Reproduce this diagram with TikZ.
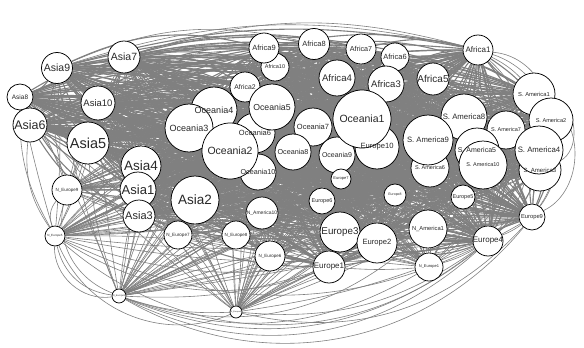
\documentclass[tikz,border=0pt]{standalone}
\usepackage{fontspec}
\setmainfont{Liberation Sans}
\pgfdeclarelayer{edges}
\pgfdeclarelayer{labels}
\pgfsetlayers{edges,main,labels}
\definecolor{edgegray}{RGB}{128,128,128}
\definecolor{labelgray}{RGB}{40,40,40}
\tikzset{
  country/.style={circle, draw=black, fill=white, line width=0.75pt, inner sep=0pt},
  countrylabel/.style={inner sep=0pt, text=labelgray},
  link/.style={draw=edgegray, line width=1.1pt},
  sidelink/.style={draw=edgegray, line width=0.6pt},
}
% \country{name}{x}{y}{diameter}{font size}{label}
% circles go on the main layer, their labels on the layer above
\newcommand\country[6]{%
  \node[country, minimum size=#4pt] (#1) at (#2,#3) {};
  \begin{pgfonlayer}{labels}
    \node[countrylabel, font=\fontsize{#5}{#5}\selectfont] (#1-t) at (#2,#3) {#6};
  \end{pgfonlayer}}
\def\mainnodes{a7,a9,a8,a10,a6,a5,a4,a1,a3,a2,o1,o2,o3,o4,o5,o6,o7,o8,o9,o10,af1,af2,af3,af4,af5,af6,af7,af8,af9,af10,sa1,sa2,sa3,sa4,sa5,sa6,sa7,sa8,sa9,sa10,e1,e2,e3,e4,e5,e6,e7,e8,e9,e10}
\def\sidenodes{ne9,nL,nB1,nB2,na10,ne7,ne8,ne6,na1,ne1}
\begin{document}
\begin{tikzpicture}[x=1pt,y=-1pt]
\useasboundingbox (0,0) rectangle (584,348);

% ---- peripheral nodes
\country{ne9}{67}{190}{30}{4.5}{N\_Europe9}
\country{nL}{55}{236}{20}{3}{N\_Europe5}
\country{nB1}{119}{296}{14}{2.4}{N\_Europe3}
\country{nB2}{236}{312}{12}{2}{N\_Europe4}

% ---- Asia
\country{a7}{124}{57}{32}{10.5}{Asia7}
\country{a9}{57}{68}{31}{10.5}{Asia9}
\country{a8}{20}{97}{26}{6.5}{Asia8}
\country{a10}{98}{103}{34}{9.5}{Asia10}
\country{a6}{30}{125}{34}{12.5}{Asia6}
\country{a5}{88}{143}{42}{14.5}{Asia5}
\country{a4}{141}{166}{40}{13.5}{Asia4}
\country{a1}{138}{190}{36}{13}{Asia1}
\country{a3}{139}{216}{32}{11}{Asia3}
\country{a2}{195}{200}{48}{13.5}{Asia2}

% ---- Africa
\country{af10}{275}{67}{28}{5.5}{Africa10}
\country{af9}{264}{48}{30}{7.5}{Africa9}
\country{af2}{245}{87}{30}{6.8}{Africa2}
\country{af8}{314}{44}{31}{7.5}{Africa8}
\country{af7}{361}{49}{30}{7.2}{Africa7}
\country{af4}{337}{78}{36}{9.6}{Africa4}
\country{af6}{395}{57}{28}{7.5}{Africa6}
\country{af3}{386}{84}{36}{9.5}{Africa3}
\country{af5}{433}{79}{32}{10}{Africa5}
\country{af1}{478}{50}{30}{8}{Africa1}

% ---- Oceania
\country{o10}{258}{172}{36}{7.2}{Oceania10}
\country{o6}{255}{133}{40}{7.5}{Oceania6}
\country{o4}{214}{110}{46}{9}{Oceania4}
\country{o3}{189}{128}{48}{9}{Oceania3}
\country{o5}{272}{107}{46}{8.7}{Oceania5}
\country{o2}{230}{151}{56}{10.5}{Oceania2}
\country{o7}{313}{127}{38}{7.5}{Oceania7}
\country{o8}{293}{152}{36}{7.2}{Oceania8}
\country{o9}{337}{155}{36}{7}{Oceania9}
\country{e10}{377}{147}{44}{7.6}{Europe10}
\country{o1}{362}{119}{58}{10.5}{Oceania1}

% ---- South America
\country{sa1}{534}{94}{42}{5.8}{S. America1}
\country{sa2}{551}{120}{44}{5.6}{S. America2}
\country{sa8}{464}{117}{46}{7.8}{S. America8}
\country{sa7}{506}{130}{38}{5.5}{S. America7}
\country{sa5}{477}{150}{44}{7}{S. America5}
\country{sa6}{430}{168}{38}{5.5}{S. America6}
\country{sa9}{428}{140}{50}{7.7}{S. America9}
\country{sa10}{483}{165}{48}{5.5}{S. America10}
\country{sa3}{540}{170}{42}{6}{S. America3}
\country{sa4}{539}{150}{48}{7.8}{S. America4}

% ---- Europe
\country{e7}{341}{179}{20}{4}{Europe7}
\country{e6}{322}{201}{26}{5.5}{Europe6}
\country{e8}{395}{195}{22}{3.5}{Europe8}
\country{e3}{340}{232}{40}{9.8}{Europe3}
\country{e2}{377}{243}{40}{7.6}{Europe2}
\country{e1}{329}{267}{32}{8}{Europe1}
\country{e5}{463}{197}{24}{5.5}{Europe5}
\country{e4}{488}{241}{30}{8}{Europe4}
\country{e9}{532}{217}{26}{5.8}{Europe9}

% ---- North America / North Europe inside the mass
\country{na10}{262}{213}{32}{5}{N\_America10}
\country{ne7}{178}{235}{28}{4.6}{N\_Europe7}
\country{ne8}{236}{235}{28}{4.5}{N\_Europe8}
\country{ne6}{270}{256}{30}{4.5}{N\_Europe6}
\country{na1}{428}{229}{38}{5.8}{N\_America1}
\country{ne1}{429}{267}{28}{4}{N\_Europe1}

\begin{pgfonlayer}{edges}
  % all pairs among the main countries
  \foreach \u [count=\i] in \mainnodes {
    \foreach \v [count=\j] in \mainnodes {
      \ifnum\j>\i
        \pgfmathtruncatemacro\ang{6+mod(\i*7+\j*13,14)}
        \ifodd\numexpr\i+\j\relax
          \draw[link] (\u) to[bend left=\ang] (\v);
        \else
          \draw[link] (\u) to[bend right=\ang] (\v);
        \fi
      \fi
    }
  }
  % peripheral nodes to most of the main countries
  \foreach \n [count=\k] in \sidenodes {
    \foreach \v [count=\j] in \mainnodes {
      \pgfmathtruncatemacro\sel{mod(\k*5+\j*3,5)}
      \pgfmathtruncatemacro\ang{2+mod(\k*3+\j*7,9)}
      \ifnum\sel>0
        \ifodd\numexpr\k+\j\relax
          \draw[sidelink] (\n) to[bend left=\ang] (\v);
        \else
          \draw[sidelink] (\n) to[bend right=\ang] (\v);
        \fi
      \fi
    }
  }
  % long outer arcs
  \draw[sidelink] (a9) to[bend left=15] (af1);
  \draw[sidelink] (a9) to[bend left=13] (sa1);
  \draw[sidelink] (a7) to[bend left=16] (af1);
  \draw[sidelink] (a9) to[bend left=18] (af8);
  \draw[sidelink] (a8) to[bend left=14] (af7);
  \draw[sidelink] (a8) to[bend left=12] (af6);
  \draw[sidelink] (af1) to[bend left=55] (e9);
  \draw[sidelink] (af1) to[bend left=45] (e4);
  \draw[sidelink] (af5) to[bend left=40] (e9);
  \draw[sidelink] (sa1) to[bend left=60] (e9);
  \draw[sidelink] (sa1) to[bend left=50] (e4);
  \draw[sidelink] (sa1) to[bend left=70] (sa3);
  \draw[sidelink] (af1) to[bend left=35] (sa3);
  \draw[sidelink] (af1) to[bend left=50] (sa4);
  \draw[sidelink] (nB1) to[bend right=30] (e4);
  \draw[sidelink] (nB1) to[bend right=40] (e9);
  \draw[sidelink] (nB1) to[bend right=34] (e4);
  \draw[sidelink] (nB1) to[bend right=25] (ne1);
  \draw[sidelink] (nB1) to[bend right=30] (na1);
  \draw[sidelink] (nB2) to[bend right=30] (e9);
  \draw[sidelink] (nL) to[bend right=40] (e4);
  \draw[sidelink] (nL) to[bend right=28] (e9);
  \draw[sidelink] (nL) to[bend right=20] (na1);
  \draw[sidelink] (nL) to[bend right=30] (e2);
  \draw[sidelink] (nL) to[bend right=35] (nB1);
  \draw[sidelink] (nL) to[bend right=50] (nB1);
  \draw[sidelink] (nL) to[bend right=45] (nB2);
  \draw[sidelink] (ne9) to[bend right=30] (nL);
  \draw[sidelink] (ne9) to[bend right=40] (nB1);
  \draw[sidelink] (a6) to[bend right=20] (nL);
  \draw[sidelink] (a8) to[bend right=15] (nL);
  \draw[sidelink] (nB2) to[bend right=20] (e4);
  \draw[sidelink] (nB1) to[bend right=10] (nB2);
\end{pgfonlayer}
\end{tikzpicture}
\end{document}
